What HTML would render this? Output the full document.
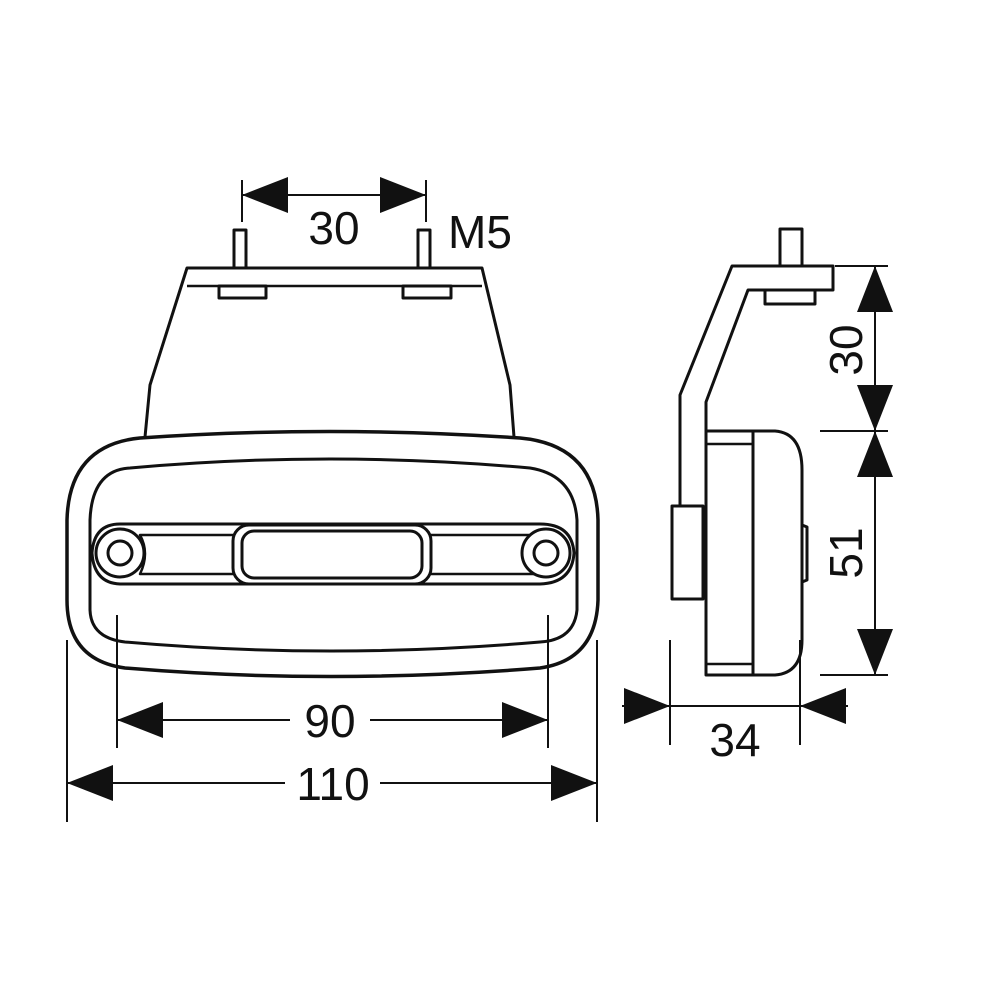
<!DOCTYPE html>
<html><head><meta charset="utf-8"><style>html,body{margin:0;padding:0;background:#fff}svg{display:block}</style></head><body>
<svg width="1000" height="1000" viewBox="0 0 1000 1000" xmlns="http://www.w3.org/2000/svg">
<defs>
<marker id="a" viewBox="0 0 46 36" refX="46" refY="18" markerWidth="46" markerHeight="36" markerUnits="userSpaceOnUse" orient="auto"><path d="M0,0 L46,18 L0,36 Z" fill="#111"/></marker>
</defs>
<g fill="none" stroke="#111" stroke-width="3" stroke-linejoin="round">
<rect x="234" y="230" width="12" height="38"/>
<rect x="418" y="230" width="12" height="38"/>
<path d="M145,437 L150,385 L187,268 L482,268 L510,385 L514,437"/>
<line x1="187" y1="286" x2="482" y2="286" stroke-width="2.5"/>
<rect x="219" y="286" width="47" height="12"/>
<rect x="403" y="286" width="48" height="12"/>
<path d="M140,438 Q330,425 520,438 Q596,445 598,520 L598,600 Q596,660 540,668 Q330,685 125,668 Q67,660 67,600 L67,520 Q69,445 140,438 Z" stroke-width="3.5"/>
<path d="M130,468 Q330,450 530,468 Q574,475 577,520 L577,610 Q574,640 540,642 Q330,660 125,642 Q91,638 90,610 L90,520 Q92,470 130,468 Z"/>
<path d="M120,524 L540,524 Q572,524 574,553 Q572,583 540,584 L120,584 Q94,583 92,553 Q94,524 120,524 Z"/>
<path d="M140,535 L535,535 Q522,553 535,574 L140,574 Q150,553 140,535 Z" stroke-width="2.5"/>
<circle cx="120" cy="553" r="24" fill="#fff"/>
<circle cx="120" cy="553" r="12"/>
<circle cx="546" cy="553" r="24" fill="#fff"/>
<circle cx="546" cy="553" r="12"/>
<rect x="233" y="525" width="198" height="59" rx="16" fill="#fff"/>
<rect x="242" y="531" width="180" height="47" rx="12"/>
<rect x="780" y="229" width="22" height="37"/>
<path d="M680,505 L680,395 L732,266 L833,266 L833,290 L748,290 L706,402 L706,431"/>
<rect x="765" y="290" width="50" height="14"/>
<rect x="672" y="506" width="31" height="93"/>
<path d="M706,431 L775,431 Q802,433 802,470 L802,640 Q802,673 775,675 L706,675 Z"/>
<line x1="753" y1="431" x2="753" y2="675"/>
<line x1="706" y1="444" x2="753" y2="444" stroke-width="2.5"/>
<line x1="706" y1="664" x2="753" y2="664" stroke-width="2.5"/>
<path d="M802,525 L807,527 L807,580 L802,582"/>
</g>
<g stroke="#111" stroke-width="2" fill="none">
<line x1="242" y1="180" x2="242" y2="222"/><line x1="426" y1="180" x2="426" y2="222"/>
<line x1="334" y1="195" x2="242" y2="195" marker-end="url(#a)"/><line x1="334" y1="195" x2="426" y2="195" marker-end="url(#a)"/>
<line x1="117" y1="615" x2="117" y2="748"/><line x1="548" y1="615" x2="548" y2="748"/>
<line x1="290" y1="720" x2="117" y2="720" marker-end="url(#a)"/><line x1="370" y1="720" x2="548" y2="720" marker-end="url(#a)"/>
<line x1="67" y1="640" x2="67" y2="822"/><line x1="597" y1="640" x2="597" y2="822"/>
<line x1="285" y1="783" x2="67" y2="783" marker-end="url(#a)"/><line x1="380" y1="783" x2="597" y2="783" marker-end="url(#a)"/>
<line x1="835" y1="266" x2="888" y2="266"/>
<line x1="820" y1="431" x2="888" y2="431"/>
<line x1="820" y1="675" x2="888" y2="675"/>
<line x1="875" y1="266" x2="875" y2="675"/>
<line x1="875" y1="330" x2="875" y2="266" marker-end="url(#a)"/>
<line x1="875" y1="380" x2="875" y2="431" marker-end="url(#a)"/>
<line x1="875" y1="480" x2="875" y2="431" marker-end="url(#a)"/>
<line x1="875" y1="620" x2="875" y2="675" marker-end="url(#a)"/>
<line x1="670" y1="640" x2="670" y2="745"/><line x1="800" y1="640" x2="800" y2="745"/>
<line x1="670" y1="706" x2="800" y2="706"/>
<line x1="622" y1="706" x2="670" y2="706" marker-end="url(#a)"/>
<line x1="848" y1="706" x2="800" y2="706" marker-end="url(#a)"/>
</g>
<g font-family="Liberation Sans, sans-serif" font-size="46" fill="#111" text-anchor="middle">
<text x="334" y="244">30</text>
<text x="480" y="248">M5</text>
<text x="330" y="737">90</text>
<text x="333" y="800">110</text>
<text x="735" y="756">34</text>
<text transform="translate(862,350) rotate(-90)">30</text>
<text transform="translate(862,553) rotate(-90)">51</text>
</g>
</svg>
</body></html>
